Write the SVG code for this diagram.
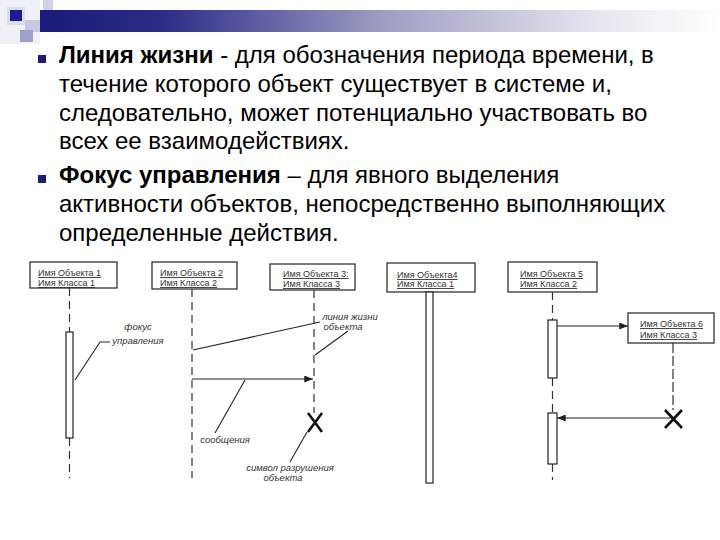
<svg xmlns="http://www.w3.org/2000/svg" width="720" height="540" viewBox="0 0 720 540">
<defs>
  <linearGradient id="bargrad" x1="0" y1="0" x2="1" y2="0">
    <stop offset="0" stop-color="#1a1a78"/>
    <stop offset="0.18" stop-color="#2c2c88"/>
    <stop offset="0.5" stop-color="#9c9cc2"/>
    <stop offset="0.82" stop-color="#e6e6f0"/>
    <stop offset="1" stop-color="#ffffff"/>
  </linearGradient>
  <marker id="arr" viewBox="0 0 10 8" refX="10" refY="4" markerWidth="10" markerHeight="7" markerUnits="userSpaceOnUse" orient="auto">
    <path d="M0,0 L10,4 L0,8 z" fill="#222"/>
  </marker>
</defs>
<style>
  .t {font-family:"Liberation Sans",Arial,sans-serif;font-size:24px;fill:#000}
  .b {font-weight:bold}
  .bul {fill:#1c1c80}
  .box {fill:#fff;stroke:#222;stroke-width:1.2}
  .act {fill:#fff;stroke:#222;stroke-width:1.2}
  .life {stroke:#333;stroke-width:1.2;stroke-dasharray:8 5;fill:none}
  .ln {stroke:#222;stroke-width:1.1;fill:none}
  .msg {stroke:#222;stroke-width:1.2;fill:none;marker-end:url(#arr)}
  .x {stroke:#111;stroke-width:2.6;fill:none}
  .nm {font-family:"Liberation Sans",Arial,sans-serif;font-size:9px;fill:#333;text-decoration:underline}
  .lbl {font-family:"Liberation Sans",Arial,sans-serif;font-size:9.5px;font-style:italic;fill:#333}
</style>
<rect width="720" height="540" fill="#fff"/>

<g id="decor">
  <rect x="0" y="0" width="40" height="44" fill="#f0f0f7"/>
  <rect x="43" y="0" width="10" height="10" fill="#d2d2e6"/>
  <rect x="7" y="7" width="18" height="18" fill="#dcdcec"/>
  <rect x="25" y="20" width="18" height="12" fill="#c8c8e0"/>
  <rect x="20" y="30" width="13" height="12" fill="#a0a0cc"/>
  <rect x="10" y="10" width="12" height="11" fill="#1c1c96"/>
  <rect x="40" y="10" width="680" height="22" fill="url(#bargrad)"/>
</g>

<g id="text">
  <rect class="bul" x="38" y="55" width="8" height="8"/>
  <text class="t" x="59" y="63"><tspan class="b">Линия жизни</tspan> - для обозначения периода времени, в</text>
  <text class="t" x="59" y="91.8">течение которого объект существует в системе и,</text>
  <text class="t" x="59" y="120.6">следовательно, может потенциально участвовать во</text>
  <text class="t" x="59" y="149.4">всех ее взаимодействиях.</text>
  <rect class="bul" x="38" y="175" width="8" height="8"/>
  <text class="t" x="59" y="183"><tspan class="b">Фокус управления</tspan> – для явного выделения</text>
  <text class="t" x="59" y="211.8">активности объектов, непосредственно выполняющих</text>
  <text class="t" x="59" y="240.6">определенные действия.</text>
</g>

<g id="obj1">
  <rect class="box" x="30" y="262" width="87" height="26"/>
  <text class="nm" x="38" y="276">Имя Объекта 1</text>
  <text class="nm" x="38" y="286">Имя Класса 1</text>
</g>
<g id="obj2">
  <rect class="box" x="152" y="262" width="85" height="27"/>
  <text class="nm" x="160" y="276">Имя Объекта 2</text>
  <text class="nm" x="160" y="286">Имя Класса 2</text>
</g>
<g id="obj3">
  <rect class="box" x="270" y="264" width="85" height="26"/>
  <text class="nm" x="283" y="277">Имя Объекта 3:</text>
  <text class="nm" x="283" y="287">Имя Класса 3</text>
</g>
<g id="obj4">
  <rect class="box" x="387" y="263" width="88" height="29"/>
  <text class="nm" x="397" y="278">Имя Объекта4</text>
  <text class="nm" x="397" y="287">Имя Класса 1</text>
</g>
<g id="obj5">
  <rect class="box" x="508" y="262" width="89" height="30"/>
  <text class="nm" x="520" y="277">Имя Объекта 5</text>
  <text class="nm" x="520" y="287">Имя Класса 2</text>
</g>
<g id="obj6">
  <rect class="box" x="628" y="313" width="86" height="30"/>
  <text class="nm" x="640" y="327">Имя Объекта 6</text>
  <text class="nm" x="640" y="338">Имя Класса 3</text>
</g>

<g id="connectors">
  <!-- lifelines -->
  <line class="life" x1="69.5" y1="288" x2="69.5" y2="332"/>
  <line class="life" x1="69.5" y1="438" x2="69.5" y2="478"/>
  <line class="life" x1="192" y1="289" x2="192" y2="478"/>
  <line class="life" x1="314" y1="290" x2="314" y2="413"/>
  <line class="life" x1="552.5" y1="292" x2="552.5" y2="320"/>
  <line class="life" x1="552.5" y1="378" x2="552.5" y2="413"/>
  <line class="life" x1="552.5" y1="464" x2="552.5" y2="480"/>
  <line class="life" x1="673" y1="343" x2="673" y2="410" style="stroke-dasharray:10 3"/>
  <!-- activation bars -->
  <rect class="act" x="66" y="332" width="7" height="106"/>
  <rect class="act" x="426" y="292" width="7" height="191"/>
  <rect class="act" x="548" y="320" width="9" height="58"/>
  <rect class="act" x="548" y="413" width="9" height="51"/>
  <!-- messages -->
  <line class="msg" x1="192" y1="379" x2="313" y2="379"/>
  <line class="msg" x1="557" y1="326" x2="628" y2="326"/>
  <line class="msg" x1="673" y1="418" x2="557" y2="418"/>
  <!-- destruction marks -->
  <path class="x" d="M308,413 L322,432 M322,413 L308,432"/>
  <path class="x" d="M665,410 L682,428 M682,410 L665,428"/>
  <!-- leaders -->
  <polyline class="ln" points="110,342 100,342 75,380"/>
  <line class="ln" x1="193" y1="350" x2="320" y2="322"/>
  <line class="ln" x1="348" y1="331" x2="315" y2="355"/>
  <line class="ln" x1="215" y1="433" x2="245" y2="380"/>
  <line class="ln" x1="290" y1="462" x2="307" y2="432"/>
</g>

<g id="labels">
  <text class="lbl" x="138" y="330" text-anchor="middle">фокус</text>
  <text class="lbl" x="138" y="344" text-anchor="middle">управления</text>
  <text class="lbl" x="350" y="320" text-anchor="middle">линия жизни</text>
  <text class="lbl" x="343" y="330" text-anchor="middle">объекта</text>
  <text class="lbl" x="225" y="443" text-anchor="middle">сообщения</text>
  <text class="lbl" x="290" y="471" text-anchor="middle">символ разрушения</text>
  <text class="lbl" x="283" y="481" text-anchor="middle">объекта</text>
</g>
</svg>
